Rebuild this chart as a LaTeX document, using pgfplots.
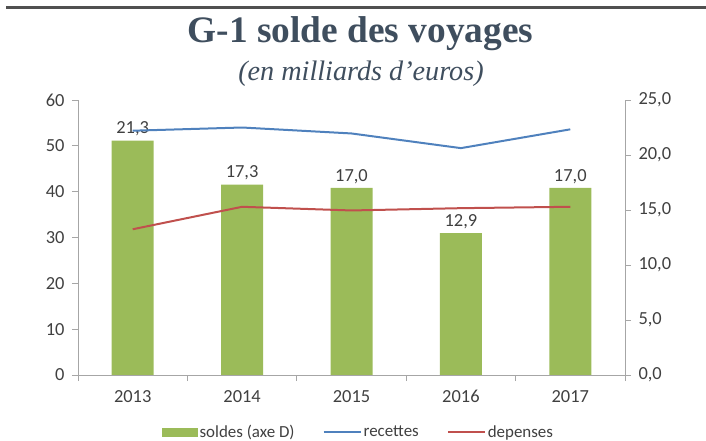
\documentclass[border=0pt]{standalone}
\usepackage{fontspec}
\setmainfont{Carlito}
\newfontfamily\seriffont{Liberation Serif}
\usepackage{pgfplots}
\usepackage{pgfplotstable}
\pgfplotsset{compat=1.18}

\definecolor{barG}{HTML}{9BBB59}
\definecolor{lineB}{HTML}{4F81BD}
\definecolor{lineR}{HTML}{C0504D}
\definecolor{titleC}{HTML}{3F4E5E}
\definecolor{axisC}{HTML}{A6A6A6}
\definecolor{txtC}{HTML}{404040}
\definecolor{ruleC}{HTML}{505050}

% solde on the right axis, recettes / depenses on the left one
\pgfplotstableread{
x solde recettes depenses
0 21.3 53.3 31.8
1 17.3 54.0 36.7
2 17.0 52.7 35.9
3 12.9 49.5 36.4
4 17.0 53.6 36.7
}\voyages

\pgfplotsset{common/.style={
  scale only axis, width=547bp, height=275bp,
  at={(78bp,66bp)}, anchor=south west,
  xmin=-0.5, xmax=4.5,
  axis line style={axisC, line width=0.8bp},
  tick style={axisC, line width=0.8bp},
  major tick length=6bp,
  tick align=outside,
  ticklabel style={font=\fontsize{18.5}{20}\selectfont, text=txtC},
  /pgf/number format/assume math mode=true,
}}

\begin{document}
\begin{tikzpicture}
\path[use as bounding box] (0bp,0bp) rectangle (706bp,441bp);
\node[anchor=base, font=\seriffont\bfseries\fontsize{37.5}{42}\selectfont, text=titleC] at (360.5bp,398bp) {G-1 solde des voyages};
\node[anchor=base, font=\seriffont\itshape\fontsize{28.3}{32}\selectfont, text=titleC] at (361bp,360bp) {(en milliards d’euros)};

% bars, right axis
\begin{axis}[common,
  clip=false,
  ymin=0, ymax=25,
  axis y line*=right, axis x line*=bottom,
  xtick={-0.5,0.5,1.5,2.5,3.5,4.5}, xticklabels={},
  extra x ticks={0,1,2,3,4},
  extra x tick labels={2013,2014,2015,2016,2017},
  extra x tick style={major tick length=0pt, xticklabel style={yshift=-12bp}},
  ytick={0,5,10,15,20,25},
  yticklabel style={xshift=4bp},
  y tick label style={/pgf/number format/.cd, fixed, fixed zerofill, precision=1, use comma},
]
\addplot[ybar, bar width=42bp, fill=barG, draw=none,
  nodes near coords={\pgfmathprintnumber[fixed,fixed zerofill,precision=1,use comma,assume math mode=true]{\pgfplotspointmeta}},
  every node near coord/.append style={font=\fontsize{18.5}{20}\selectfont, text=txtC, yshift=1bp}]
  table[x=x, y=solde]{\voyages};
% rule across the top of the figure
\draw[ruleC, line width=2.6bp] (rel axis cs:-0.1316,1.336) -- (rel axis cs:1.148,1.336);
\end{axis}

% lines, left axis
\begin{axis}[common,
  ymin=0, ymax=60,
  ytick={0,10,20,30,40,50,60},
  yticklabel style={xshift=-4bp},
  axis y line*=left, axis x line=none,
  legend image code/.code={\draw[#1] (0bp,0bp) -- (37bp,0bp);},
  legend columns=3,
  legend style={draw=none, fill=none, at={(0.513,-0.207)}, anchor=center,
    font=\fontsize{17}{19}\selectfont, text=txtC,
    /tikz/every odd column/.append style={column sep=0bp},
    /tikz/every even column/.append style={column sep=26bp}},
]
\addlegendimage{legend image code/.code={\fill[barG] (0bp,-4bp) rectangle (35bp,4bp);}}
\addlegendentry{soldes (axe D)}
\addplot[lineB, line width=2bp] table[x=x, y=recettes]{\voyages};
\addlegendentry{recettes}
\addplot[lineR, line width=2bp] table[x=x, y=depenses]{\voyages};
\addlegendentry{depenses}
\end{axis}
\end{tikzpicture}
\end{document}
